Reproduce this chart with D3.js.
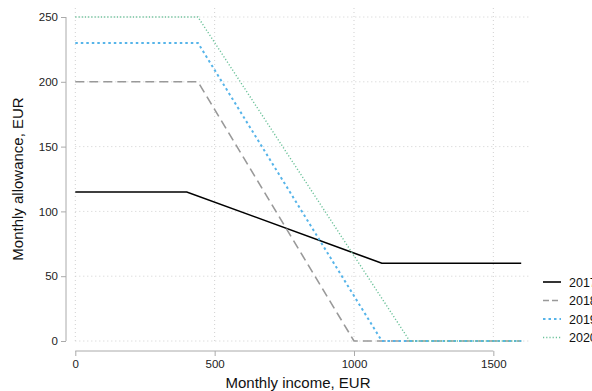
<!DOCTYPE html>
<html><head><meta charset="utf-8">
<script src="https://cdn.jsdelivr.net/npm/d3@7"></script>
<style>body{margin:0;background:#fff}svg{display:block}text{font-family:"Liberation Sans",Arial,sans-serif}</style>
</head><body>
<script>
const years = ["2017","2018","2019","2020"];
const incomes2017 = [0,400,1100,1600];
const allow2017 = [115,115,60,60];
const incomes2018 = [0,440,1000,1600];
const allow2018 = [200,200,0,0];
const incomes2019 = [0,440,1100,1600];
const allow2019 = [230,230,0,0];
const incomes2020 = [0,440,1200,1600];
const allow2020 = [250,250,0,0];
const xTicks = [0,500,1000,1500];
const yTicks = [0,50,100,150,200,250];

const series = [
  {name:years[0], xs:incomes2017, ys:allow2017, color:"#000000", dash:null, width:1.6},
  {name:years[1], xs:incomes2018, ys:allow2018, color:"#999999", dash:"9,5", width:1.6},
  {name:years[2], xs:incomes2019, ys:allow2019, color:"#56B4E9", dash:"2.5,3", width:2},
  {name:years[3], xs:incomes2020, ys:allow2020, color:"#6cc29a", dash:"1.2,2", width:1.4}
];

const W=592,H=391;
const svg=d3.select("body").append("svg").attr("width",W).attr("height",H);
const x=d3.scaleLinear().domain([0,1600]).range([75.3,521.2]);
const y=d3.scaleLinear().domain([0,250]).range([341,17]);

// grid
const g=svg.append("g");
g.selectAll(".hg").data(yTicks).enter().append("line")
 .attr("x1",x(0)).attr("x2",530).attr("y1",d=>y(d)).attr("y2",d=>y(d))
 .attr("stroke","#d0d0d0").attr("stroke-width",1).attr("stroke-dasharray","1,3");
g.selectAll(".vg").data(xTicks).enter().append("line")
 .attr("y1",y(0)).attr("y2",8).attr("x1",d=>x(d)).attr("x2",d=>x(d))
 .attr("stroke","#d0d0d0").attr("stroke-width",1).attr("stroke-dasharray","1,3");

// axes
const xAxis=svg.append("g").attr("transform","translate(0,351)")
 .call(d3.axisBottom(x).tickValues(xTicks).tickFormat(d3.format("d")).tickSize(5).tickSizeOuter(0).tickPadding(4));
const yAxis=svg.append("g").attr("transform","translate(66,0)")
 .call(d3.axisLeft(y).tickValues(yTicks).tickFormat(d3.format("d")).tickSize(5).tickSizeOuter(0).tickPadding(3));
[xAxis,yAxis].forEach(a=>{
  a.select(".domain").attr("stroke","#aaaaaa");
  a.selectAll(".tick line").attr("stroke","#aaaaaa");
  a.selectAll(".tick text").attr("font-size",11.5).attr("fill","#222");
});
xAxis.select(".domain").attr("d",`M${x(0)},0H${x(1500)}`);
yAxis.select(".domain").attr("d",`M0,${y(0)}V${y(250)}`);

// lines
const line=d3.line().x(d=>x(d[0])).y(d=>y(d[1]));
series.forEach(s=>{
  svg.append("path").datum(s.xs.map((v,i)=>[v,s.ys[i]]))
   .attr("d",line).attr("fill","none").attr("stroke",s.color)
   .attr("stroke-width",s.width).attr("stroke-dasharray",s.dash);
});

// titles
svg.append("text").attr("x",298).attr("y",388).attr("text-anchor","middle")
 .attr("font-size",15).attr("fill","#111").text("Monthly income, EUR");
svg.append("text").attr("transform","translate(23,179) rotate(-90)").attr("text-anchor","middle")
 .attr("font-size",15).attr("fill","#111").text("Monthly allowance, EUR");

// legend
const leg=svg.append("g");
series.forEach((s,i)=>{
  const yy=282+i*18.5;
  leg.append("line").attr("x1",543).attr("x2",561).attr("y1",yy).attr("y2",yy)
   .attr("stroke",s.color).attr("stroke-width",s.width).attr("stroke-dasharray",s.dash?(i==1?"6,3":s.dash):null);
  leg.append("text").attr("x",569).attr("y",yy+4.5).attr("font-size",12.5).attr("fill","#111").text(s.name);
});
</script>
</body></html>
